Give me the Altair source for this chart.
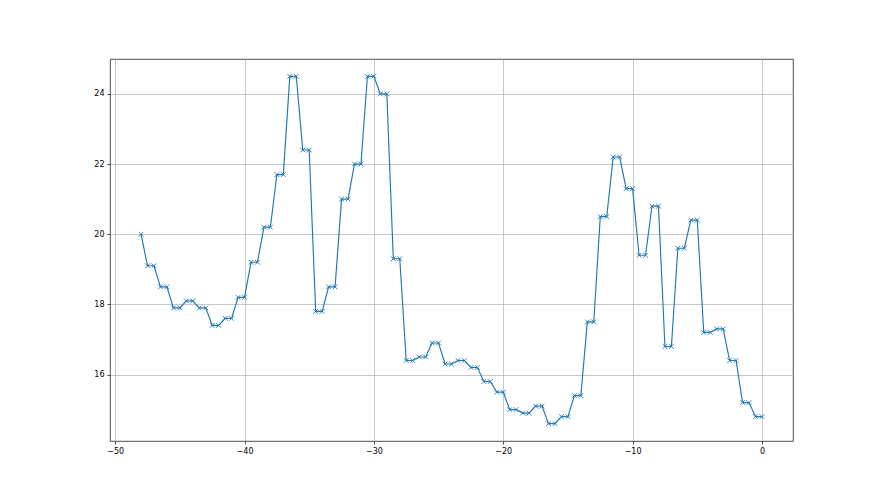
import altair as alt
import pandas as pd

# values of each pair ending at integer k = -47 .. 0 (first point -48 is single)
first_x = -48.0
first_y = 20.0
pair_ends = list(range(-47, 1))
pair_vals = [19.1, 18.5, 17.9, 18.1, 17.9, 17.4, 17.6, 18.2, 19.2, 20.2,
             21.7, 24.5, 22.4, 17.8, 18.5, 21.0, 22.0, 24.5, 24.0, 19.3,
             16.4, 16.5, 16.9, 16.3, 16.4, 16.2, 15.8, 15.5, 15.0, 14.9,
             15.1, 14.6, 14.8, 15.4, 17.5, 20.5, 22.2, 21.3, 19.4, 20.8,
             16.8, 19.6, 20.4, 17.2, 17.3, 16.4, 15.2, 14.8]

xs = [first_x]
ys = [first_y]
for k, v in zip(pair_ends, pair_vals):
    xs += [k - 0.5, k]
    ys += [v, v]

df = pd.DataFrame({"x": xs, "y": ys})

xticks = [-50, -40, -30, -20, -10, 0]
yticks = [16, 18, 20, 22, 24]

xscale = alt.Scale(domain=[-50.4, 2.4], nice=False, zero=False)
yscale = alt.Scale(domain=[14.105, 24.995], nice=False, zero=False)

xaxis = alt.Axis(values=xticks, title=None, grid=True, gridColor="#b0b0b0", gridWidth=0.7,
                 tickColor="black", tickSize=3, tickWidth=0.7, labelFontSize=8,
                 labelColor="black", labelFont="DejaVu Sans", labelPadding=3,
                 domain=False, format="d")
yaxis = alt.Axis(values=yticks, title=None, grid=True, gridColor="#b0b0b0", gridWidth=0.7,
                 tickColor="black", tickSize=3, tickWidth=0.7, labelFontSize=8,
                 labelColor="black", labelFont="DejaVu Sans", labelPadding=3,
                 domain=False, format="d")

base = alt.Chart(df).encode(
    x=alt.X("x:Q", scale=xscale, axis=xaxis),
    y=alt.Y("y:Q", scale=yscale, axis=yaxis),
)

line = base.mark_line(color="#1f77b4", strokeWidth=1.15)
pts = base.mark_point(shape="M-1,-1L1,1M-1,1L1,-1", filled=False, color="#1f77b4",
                      size=22, strokeWidth=0.9, opacity=1)

chart = (line + pts).properties(
    width=683, height=382,
    padding={"left": 102, "top": 51, "right": 20, "bottom": 40},
    autosize=alt.AutoSizeParams(type="none"),
    background="white",
).configure_view(stroke="#222222", strokeWidth=0.8)

chart.save("out.html", embed_options={"renderer": "svg", "actions": False})
